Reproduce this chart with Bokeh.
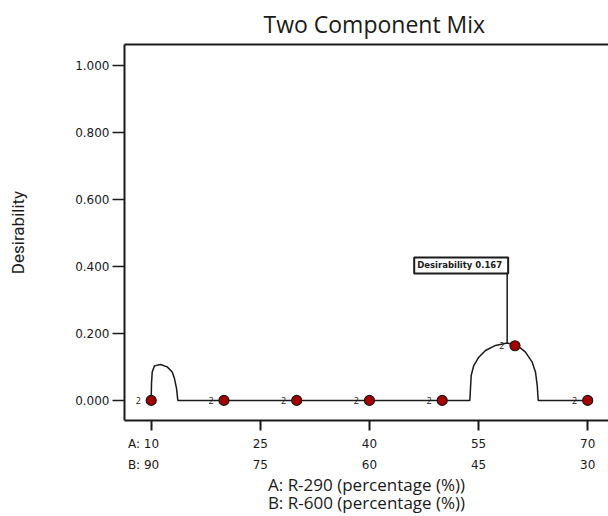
from bokeh.plotting import figure
from bokeh.models import LinearAxis, FixedTicker, Label, Range1d
from bokeh.core.properties import value
from bokeh.embed import file_html
from bokeh.resources import INLINE

# ---- data ----
design_x = [10, 20, 30, 40, 50, 60, 70]
design_y = [0.0, 0.0, 0.0, 0.0, 0.0, 0.163, 0.0]
design_rep = ["2", "2", "2", "2", "2", "2", "2"]

curve_x = [10.0, 10.04, 10.14, 10.45, 11.28, 12.2, 12.89, 13.2, 13.48, 13.66,
           53.8, 53.89, 53.99, 54.34, 55.03, 55.95, 57.33, 58.93, 60.31,
           61.45, 62.37, 62.82, 63.06, 63.2, 70.0]
curve_y = [0.0, 0.05, 0.085, 0.103, 0.107, 0.100, 0.085, 0.065, 0.036, 0.0,
           0.0, 0.036, 0.075, 0.104, 0.129, 0.149, 0.164, 0.171, 0.164,
           0.144, 0.114, 0.085, 0.045, 0.0, 0.0]

peak_x = 58.93
peak_y = 0.171
peak_label = "Desirability  0.167"

x_ticks = [10, 25, 40, 55, 70]
x_labels_a = ["A: 10", "25", "40", "55", "70"]
x_labels_b = ["B: 90", "75", "60", "45", "30"]
x_title_a = "A: R-290 (percentage (%))"
x_title_b = "B: R-600 (percentage (%))"
y_ticks = [0.0, 0.2, 0.4, 0.6, 0.8, 1.0]
y_labels = ["0.000", "0.200", "0.400", "0.600", "0.800", "1.000"]

FONT = "Open Sans"
TICKFONT = "DejaVu Sans"
INK = "#1a1a1a"
PAD = "\u2007\u2007"  # keeps the number centred on its tick after the "A: " prefix


def tick_text(lbl):
    return lbl + PAD if ":" in lbl else lbl


p = figure(width=608, height=516, output_backend="svg", toolbar_location=None,
           x_range=Range1d(6.33, 72.86), y_range=Range1d(-0.060, 1.062),
           x_axis_location=None, y_axis_location=None,
           min_border_left=124, min_border_right=0, min_border_top=43,
           min_border_bottom=94)
p.outline_line_color = None
p.xgrid.visible = False
p.ygrid.visible = False
p.background_fill_color = "white"
p.border_fill_color = "white"

p.title.text = "Two Component Mix"
p.title.align = "left"
p.title.offset = 139
p.title.text_font = FONT
p.title.text_font_size = "23px"
p.title.text_font_style = "normal"
p.title.text_color = INK

# left axis
ya = LinearAxis(ticker=FixedTicker(ticks=y_ticks),
                major_label_overrides={t: l for t, l in zip(y_ticks, y_labels)})
ya.axis_line_width = 2
ya.axis_line_color = INK
ya.major_tick_in = 0
ya.major_tick_out = 12
ya.major_tick_line_width = 1.5
ya.major_tick_line_color = INK
ya.minor_tick_line_color = None
ya.major_label_standoff = 3
ya.major_label_text_font = TICKFONT
ya.major_label_text_font_size = "12px"
ya.major_label_text_color = INK
ya.axis_label = "Desirability"
ya.axis_label_text_font = "Roboto"
ya.axis_label_text_font_size = "17px"
ya.axis_label_text_font_style = "normal"
ya.axis_label_text_color = INK
ya.axis_label_standoff = 44
p.add_layout(ya, "left")

# top border line
ta = LinearAxis(ticker=FixedTicker(ticks=[]))
ta.axis_line_width = 2
ta.axis_line_color = INK
ta.major_tick_line_color = None
ta.minor_tick_line_color = None
ta.major_label_text_font_size = "0px"
ta.major_label_standoff = 0
p.add_layout(ta, "above")

# bottom axis (A row)
xa = LinearAxis(ticker=FixedTicker(ticks=x_ticks),
                major_label_overrides={t: tick_text(l) for t, l in zip(x_ticks, x_labels_a)})
xa.axis_line_width = 2
xa.axis_line_color = INK
xa.major_tick_in = 0
xa.major_tick_out = 10
xa.major_tick_line_width = 2
xa.major_tick_line_color = INK
xa.minor_tick_line_color = None
xa.major_label_standoff = 6
xa.major_label_text_font = TICKFONT
xa.major_label_text_font_size = "12px"
xa.major_label_text_color = INK
p.add_layout(xa, "below")

# bottom axis (B row)
xb = LinearAxis(ticker=FixedTicker(ticks=x_ticks),
                major_label_overrides={t: tick_text(l) for t, l in zip(x_ticks, x_labels_b)})
xb.axis_line_color = None
xb.major_tick_line_color = None
xb.minor_tick_line_color = None
xb.major_tick_in = 0
xb.major_tick_out = 0
xb.major_label_standoff = 4
xb.major_label_text_font = TICKFONT
xb.major_label_text_font_size = "12px"
xb.major_label_text_color = INK
p.add_layout(xb, "below")

# axis titles (two lines, each on its own label-only axis)
for title, standoff in ((x_title_a, -2), (x_title_b, -8)):
    ax = LinearAxis(ticker=FixedTicker(ticks=[]))
    ax.axis_line_color = None
    ax.major_tick_line_color = None
    ax.minor_tick_line_color = None
    ax.major_tick_in = 0
    ax.major_tick_out = 0
    ax.major_label_standoff = 0
    ax.major_label_text_font_size = "0px"
    ax.axis_label = title
    ax.axis_label_text_font = FONT
    ax.axis_label_text_font_size = "17px"
    ax.axis_label_text_font_style = "normal"
    ax.axis_label_text_color = INK
    ax.axis_label_standoff = standoff
    p.add_layout(ax, "below")

# curve
p.line(curve_x, curve_y, line_color=INK, line_width=1.5)

# leader line + label box
p.segment(x0=[peak_x], y0=[peak_y], x1=[peak_x], y1=[0.379],
          line_color=INK, line_width=1.5)
p.add_layout(Label(x=peak_x, y=0.379, text=peak_label,
                   text_align="right", text_baseline="bottom",
                   x_offset=1, y_offset=0,
                   text_font="DejaVu Sans", text_font_size="8.5px",
                   text_font_style="bold", text_color=INK,
                   border_line_color=INK, border_line_width=2,
                   background_fill_color="white", padding=3))

# replicate labels
p.text(x=design_x, y=design_y, text=design_rep, x_offset=-13,
       text_align="center", text_baseline="middle",
       text_font=value(FONT), text_font_size="9px", text_color=INK)

# design points
p.scatter(design_x, design_y, size=10, fill_color="#a50000",
          line_color=INK, line_width=1.2)

open("out.html", "w").write(file_html(p, INLINE))
